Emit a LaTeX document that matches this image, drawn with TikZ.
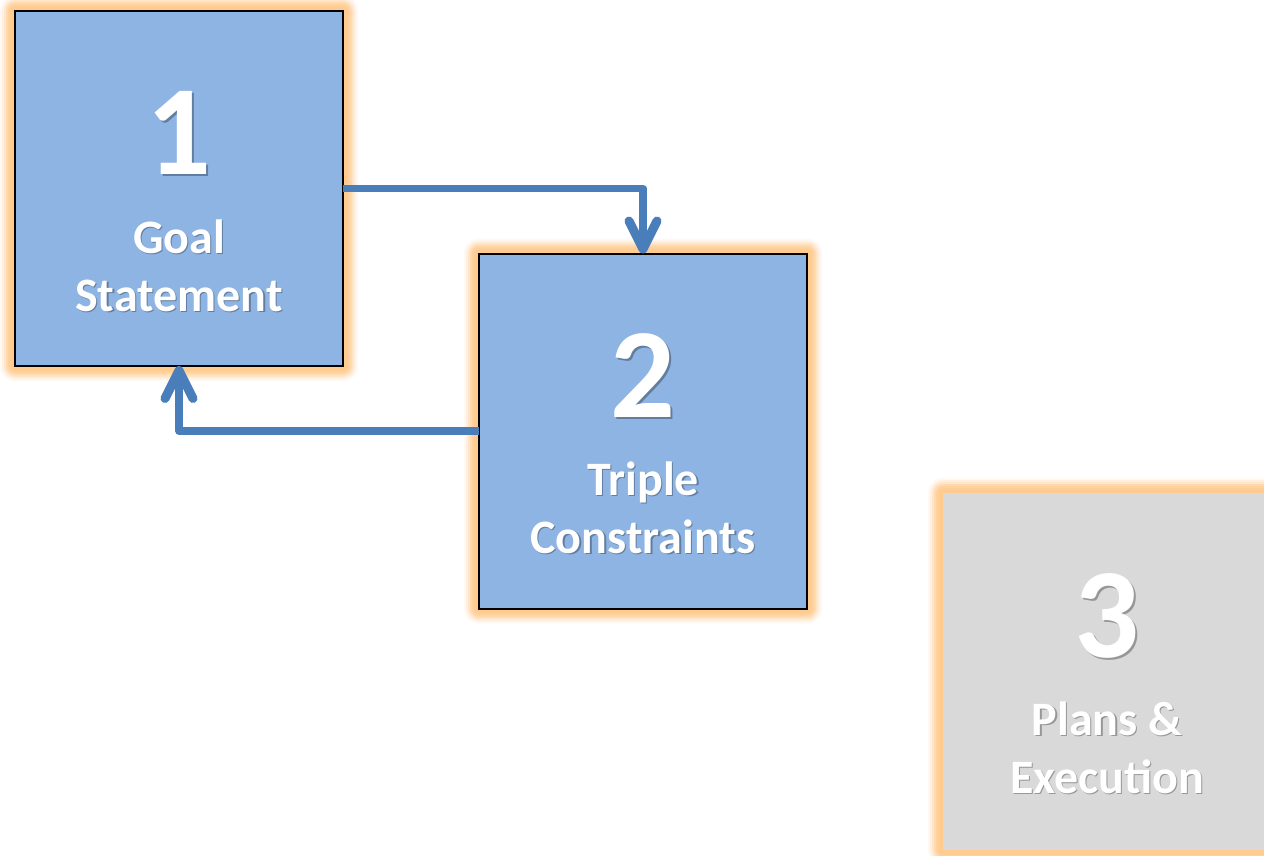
\documentclass[tikz,border=0pt]{standalone}
\usepackage{fontspec}
\setmainfont{Carlito}
\usetikzlibrary{arrows.meta,calc,backgrounds}
\definecolor{boxblue}{HTML}{8EB4E3}
\definecolor{arrowblue}{HTML}{4A7EBB}
\definecolor{boxgray}{HTML}{D9D9D9}
\definecolor{glowc}{HTML}{FFCB8E}
\tikzset{
  stepbox/.style={minimum width=328pt, minimum height=355pt, inner sep=0pt, outer sep=0pt},
  bluebox/.style={stepbox, fill=boxblue, draw=black, line width=2pt},
  graybox/.style={stepbox, fill=boxgray, minimum height=357pt},
  digit/.style={anchor=base, inner sep=0pt, font=\fontsize{128}{128}\selectfont\bfseries},
  label/.style={anchor=base, inner sep=0pt, font=\fontsize{48}{58}\selectfont\bfseries},
  txt/.style={text=white},
  shad/.style={text=black, opacity=0.3},
  arr/.style={draw=arrowblue, line width=7.5pt, line join=round,
    -{Straight Barb[length=28pt, width=28pt, line width=9pt, round]}},
}
\newcommand\glowbox[1]{%
  \foreach \d/\o in {15/0.1,13/0.18,11/0.28,9/0.4,7/0.55,5/0.7,3/0.85,1/0.9}{%
    \fill[glowc, opacity=\o, rounded corners=\d pt]
      ($(#1.north west)+(-\d,-\d)$) rectangle ($(#1.south east)+(\d,\d)$);
  }%
}
\newcommand\boxtexts[4]{% #1 box, #2 digit, #3 line1, #4 line2
  \foreach \s/\dx in {shad/2, txt/0}{%
    \node[digit,\s] (#1d\s) at ($(#1.north)+(\dx,164+\dx)$) {#2};
    \node[label,\s] (#1a\s) at ($(#1.north)+(\dx/1.5,242+\dx/1.5)$) {#3};
    \node[label,\s] (#1b\s) at ($(#1.north)+(\dx/1.5,300+\dx/1.5)$) {#4};
  }%
}
\begin{document}
\begin{tikzpicture}[x=1pt,y=-1pt]
\useasboundingbox (0,0) rectangle (1264,856);
\node[bluebox] (b1) at (179,188.5) {};
\node[bluebox] (b2) at (643,431) {};
\node[graybox] (b3) at (1107,671.5) {};
\begin{scope}[on background layer]
  \fill[white] (0,0) rectangle (1264,856);
  \glowbox{b1}
  \glowbox{b2}
  \glowbox{b3}
\end{scope}
\boxtexts{b1}{1}{Goal}{Statement}
\boxtexts{b2}{2}{Triple}{Constraints}
\boxtexts{b3}{3}{Plans \&}{Execution}
\draw[arr] (b1.east) -| (b2.north);
\draw[arr] (b2.west) -| (b1.south);
\end{tikzpicture}
\end{document}
